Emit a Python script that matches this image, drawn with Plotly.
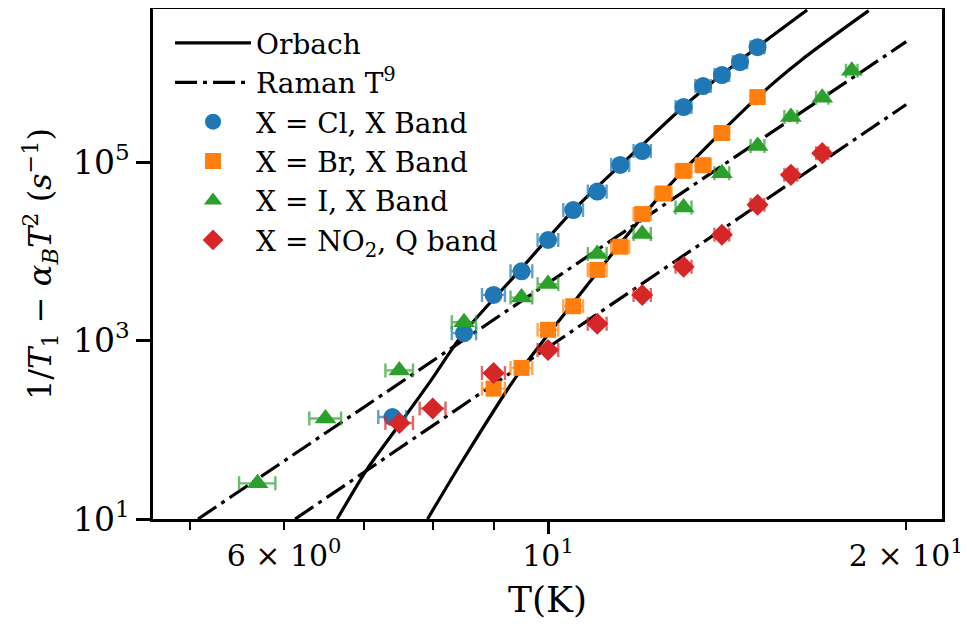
import plotly.graph_objects as go

# ---------------- data ----------------
cl_T = [7.4, 8.5, 9.0, 9.5, 10.0, 10.5, 11.0, 11.5, 12.0, 13.0, 13.5, 14.0, 14.5, 15.0]
cl_v = [139, 1210, 3250, 5970, 13400, 28980, 46800, 93000, 133000, 414000, 711000, 944000, 1.32e6, 1.94e6]

br_T = [9.0, 9.5, 10.0, 10.5, 11.0, 11.5, 12.0, 12.5, 13.0, 13.5, 14.0, 15.0]
br_v = [289, 494, 1321, 2427, 6190, 11270, 26150, 44500, 79800, 92300, 212000, 536000]

i_T = [5.7, 6.5, 7.5, 8.5, 9.5, 10.0, 11.0, 12.0, 13.0, 14.0, 15.0, 16.0, 17.0, 18.0]
i_v = [25.1, 134, 463, 1606, 3030, 4290, 9340, 15630, 31000, 75100, 151700, 320000, 526000, 1.06e6]

no2_T = [7.5, 8.0, 9.0, 10.0, 11.0, 12.0, 13.0, 14.0, 15.0, 16.0, 17.0]
no2_v = [119, 173, 432, 785, 1540, 3235, 6730, 15350, 33240, 71950, 126000]

x_err = 0.2  # K, horizontal error bar half-width

# fitted curves
orbach_cl_T = [6.65, 7.04, 7.46, 7.96, 8.49, 9.47, 10.5, 12.03, 13.0, 14.0, 14.98, 16.51]
orbach_cl_v = [10, 35.6, 104, 346, 1205, 6150, 28840, 160700, 420000, 957000, 1.93e6, 5.07e6]

orbach_br_T = [7.92, 8.5, 9.41, 10.5, 12.5, 15.0, 16.3, 18.6]
orbach_br_v = [10, 48, 400, 2650, 46100, 534000, 1.37e6, 4.98e6]

raman_i_T = [5.08, 20.0]
raman_i_v = [10, 2.24e6]

raman_no2_T = [6.13, 20.0]
raman_no2_v = [10, 4.42e5]

x_tick_vals = [6, 10, 20]
x_tick_text = ["6 × 10<sup>0</sup>", "10<sup>1</sup>", "2 × 10<sup>1</sup>"]
x_minor_vals = [5, 7, 8, 9]
y_tick_vals = [10, 1000, 100000]
y_tick_text = ["10<sup>1</sup>", "10<sup>3</sup>", "10<sup>5</sup>"]

# ---------------- figure ----------------
FONT = "DejaVu Serif"
fig = go.Figure()

LW = 3.2
DASH = "22px,6px,4px,6px"
fig.add_trace(go.Scatter(x=orbach_cl_T, y=orbach_cl_v, mode="lines", name="Orbach",
                         line=dict(color="black", width=LW, shape="spline", smoothing=0.8),
                         legendgroup="orbach"))
fig.add_trace(go.Scatter(x=orbach_br_T, y=orbach_br_v, mode="lines", name="Orbach",
                         line=dict(color="black", width=LW, shape="spline", smoothing=0.8),
                         legendgroup="orbach", showlegend=False))
fig.add_trace(go.Scatter(x=raman_i_T, y=raman_i_v, mode="lines", name="Raman T<sup>9</sup>",
                         line=dict(color="black", width=LW, dash=DASH),
                         legendgroup="raman"))
fig.add_trace(go.Scatter(x=raman_no2_T, y=raman_no2_v, mode="lines", name="Raman T<sup>9</sup>",
                         line=dict(color="black", width=LW, dash=DASH),
                         legendgroup="raman", showlegend=False))

series = [
    ("X = Cl, X Band", cl_T, cl_v, "#1f77b4", "rgba(31,119,180,0.7)", "circle", 18),
    ("X = Br, X Band", br_T, br_v, "#ff7f0e", "rgba(255,127,14,0.7)", "square", 16),
    ("X = I, X Band", i_T, i_v, "#2ca02c", "rgba(44,160,44,0.7)", "triangle-up", 19),
    ("X = NO<sub>2</sub>, Q band", no2_T, no2_v, "#d62728", "rgba(214,39,40,0.7)", "diamond", 17),
]
for name, xs, ys, col, ecol, sym, sz in series:
    fig.add_trace(go.Scatter(
        x=xs, y=ys, mode="markers", name=name,
        marker=dict(color=col, symbol=sym, size=sz, line=dict(width=0)),
        error_x=dict(type="constant", value=x_err, color=ecol, thickness=2.4, width=7),
    ))

# helper axis carrying the long major tick at 10
fig.add_trace(go.Scatter(x=[10], y=[10], xaxis="x2", mode="markers",
                         marker=dict(opacity=0), showlegend=False, hoverinfo="skip"))

xr = [0.668, 1.3311]
fig.update_layout(
    width=960, height=634,
    margin=dict(l=145, r=26, t=1, b=123, autoexpand=False),
    plot_bgcolor="white", paper_bgcolor="white",
    font=dict(family=FONT, color="black", size=34),
    showlegend=True,
    legend=dict(x=0.0216, y=0.982, xanchor="left", yanchor="top",
                bgcolor="rgba(255,255,255,0)", borderwidth=0,
                font=dict(family=FONT, size=28), tracegroupgap=0, itemwidth=76),
    xaxis=dict(type="log", range=xr, showgrid=False, zeroline=False, automargin=False,
               showline=True, linecolor="black", linewidth=2.5, mirror=True,
               ticks="outside", ticklen=8, tickwidth=2, tickcolor="black",
               tickmode="array", tickvals=x_tick_vals, ticktext=x_tick_text,
               tickfont=dict(family=FONT, size=30), ticklabeloverflow="allow",
               minor=dict(ticks="outside", ticklen=8, tickwidth=2, tickcolor="black",
                          tickmode="array", tickvals=x_minor_vals, showgrid=False),
               title=dict(text="T(K)", font=dict(family=FONT, size=36), standoff=16)),
    xaxis2=dict(type="log", range=xr, overlaying="x", anchor="y", side="bottom",
                showgrid=False, zeroline=False, showline=False, automargin=False,
                ticks="outside", ticklen=14, tickwidth=2.6, tickcolor="black",
                tickmode="array", tickvals=[10], showticklabels=False),
    yaxis=dict(type="log", range=[1.0, 6.716], showgrid=False, zeroline=False, automargin=False,
               showline=True, linecolor="black", linewidth=2.5, mirror=True,
               ticks="outside", ticklen=14, tickwidth=2.6, tickcolor="black",
               tickmode="array", tickvals=y_tick_vals, ticktext=y_tick_text,
               tickfont=dict(family=FONT, size=33),
               title=dict(text="1/<i>T</i><sub>1</sub> − <i>α</i><sub><i>B</i></sub><i>T</i><sup>2</sup> (<i>s</i><sup>−1</sup>)",
                          font=dict(family=FONT, size=32), standoff=12)),
)

fig.write_html("out.html")
